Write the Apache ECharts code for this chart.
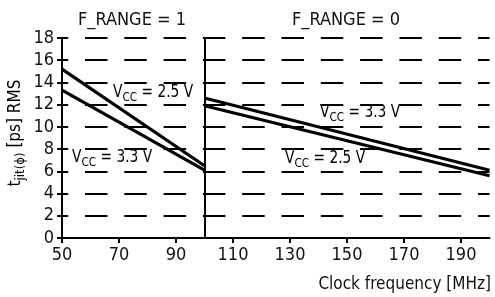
<!DOCTYPE html>
<html><head><meta charset="utf-8">
<script src="https://cdn.jsdelivr.net/npm/echarts@6/dist/echarts.min.js"></script>
<style>html,body{margin:0;padding:0;background:#fff}#c{width:495px;height:297px}</style>
</head><body><div id="c"></div>
<script>
const xTickLabels = [50, 70, 90, 110, 130, 150, 170, 190];
const yTicks = [0, 2, 4, 6, 8, 10, 12, 14, 16, 18];
const xLow = [50, 100];
const vcc25Low = [15.2, 6.5];
const vcc33Low = [13.3, 6.1];
const xHigh = [100, 200];
const vcc33High = [12.6, 6.1];
const vcc25High = [11.9, 5.6];
const rangeTitles = ['F_RANGE = 1', 'F_RANGE = 0'];
const FONT = '"Liberation Sans Narrow", "DejaVu Sans Condensed", sans-serif';

const chart = echarts.init(document.getElementById('c'), null, {renderer: 'canvas'});
const pair = (xs, ys) => xs.map((x, i) => [x, ys[i]]);
const lineStyle = {color: '#000', width: 3.2};
const mkSeries = (name, xs, ys, extra) => Object.assign({
  name, type: 'line', data: pair(xs, ys), symbol: 'none', lineStyle, z: 3, silent: true
}, extra || {});
const vccRich = {
  a: {fontFamily: FONT, fontSize: 17, color: '#111', verticalAlign: 'top', lineHeight: 20},
  b: {fontFamily: FONT, fontSize: 13, color: '#111', verticalAlign: 'top', lineHeight: 20, padding: [7, 0, 0, 0]}
};
const vccText = (v) => '{a|V}{b|CC}{a| = ' + v + ' V}';
const vccLabel = (x, y, v) => ({type: 'text', x, y, scaleX: 0.9, style: {text: vccText(v), rich: vccRich}});

chart.setOption({
  animation: false,
  grid: {left: 62, right: 5.5, top: 38, bottom: 59},
  xAxis: {
    type: 'value', min: 50, max: 200,
    axisLine: {lineStyle: {color: '#000', width: 2}},
    axisTick: {customValues: xTickLabels, length: 5, lineStyle: {color: '#000', width: 2}},
    axisLabel: {customValues: xTickLabels, color: '#111', fontFamily: FONT, fontSize: 18, margin: 8},
    splitLine: {show: false}
  },
  yAxis: {
    type: 'value', min: 0, max: 18, interval: 2,
    axisLine: {show: true, lineStyle: {color: '#000', width: 2}},
    axisTick: {show: true, length: 5, lineStyle: {color: '#000', width: 2}},
    axisLabel: {color: '#111', fontFamily: FONT, fontSize: 18, margin: 8},
    splitLine: {show: true, lineStyle: {color: '#000', width: 2, type: [22.5, 16.8], dashOffset: 16.3}}
  },
  series: [
    mkSeries('VCC = 2.5 V (F_RANGE=1)', xLow, vcc25Low, {
      markLine: {silent: true, symbol: 'none', label: {show: false},
        lineStyle: {color: '#000', width: 2, type: 'solid'}, data: [{xAxis: 100}]}
    }),
    mkSeries('VCC = 3.3 V (F_RANGE=1)', xLow, vcc33Low),
    mkSeries('VCC = 3.3 V (F_RANGE=0)', xHigh, vcc33High),
    mkSeries('VCC = 2.5 V (F_RANGE=0)', xHigh, vcc25High)
  ],
  graphic: [
    {type: 'text', x: 132, y: 20, style: {text: rangeTitles[0], fontFamily: FONT, fontSize: 18, fill: '#111', align: 'center', verticalAlign: 'middle'}},
    {type: 'text', x: 346, y: 20, style: {text: rangeTitles[1], fontFamily: FONT, fontSize: 18, fill: '#111', align: 'center', verticalAlign: 'middle'}},
    {type: 'text', x: 491, y: 285, style: {text: 'Clock frequency [MHz]', fontFamily: FONT, fontSize: 17, fill: '#111', align: 'right', verticalAlign: 'middle'}},
    vccLabel(113, 84, '2.5'),
    vccLabel(72, 149, '3.3'),
    vccLabel(320, 104, '3.3'),
    vccLabel(285, 150, '2.5'),
    {type: 'text', x: 17, y: 133, rotation: Math.PI / 2, style: {
      text: '{a|t}{b|jit(ϕ)}{a| [ps] RMS}', align: 'center', verticalAlign: 'middle',
      rich: {
        a: {fontFamily: FONT, fontSize: 17, color: '#111', verticalAlign: 'top', lineHeight: 20},
        b: {fontFamily: FONT, fontSize: 13, color: '#111', verticalAlign: 'top', lineHeight: 20, padding: [7, 0, 0, 0]}
      }}}
  ]
});
</script></body></html>
